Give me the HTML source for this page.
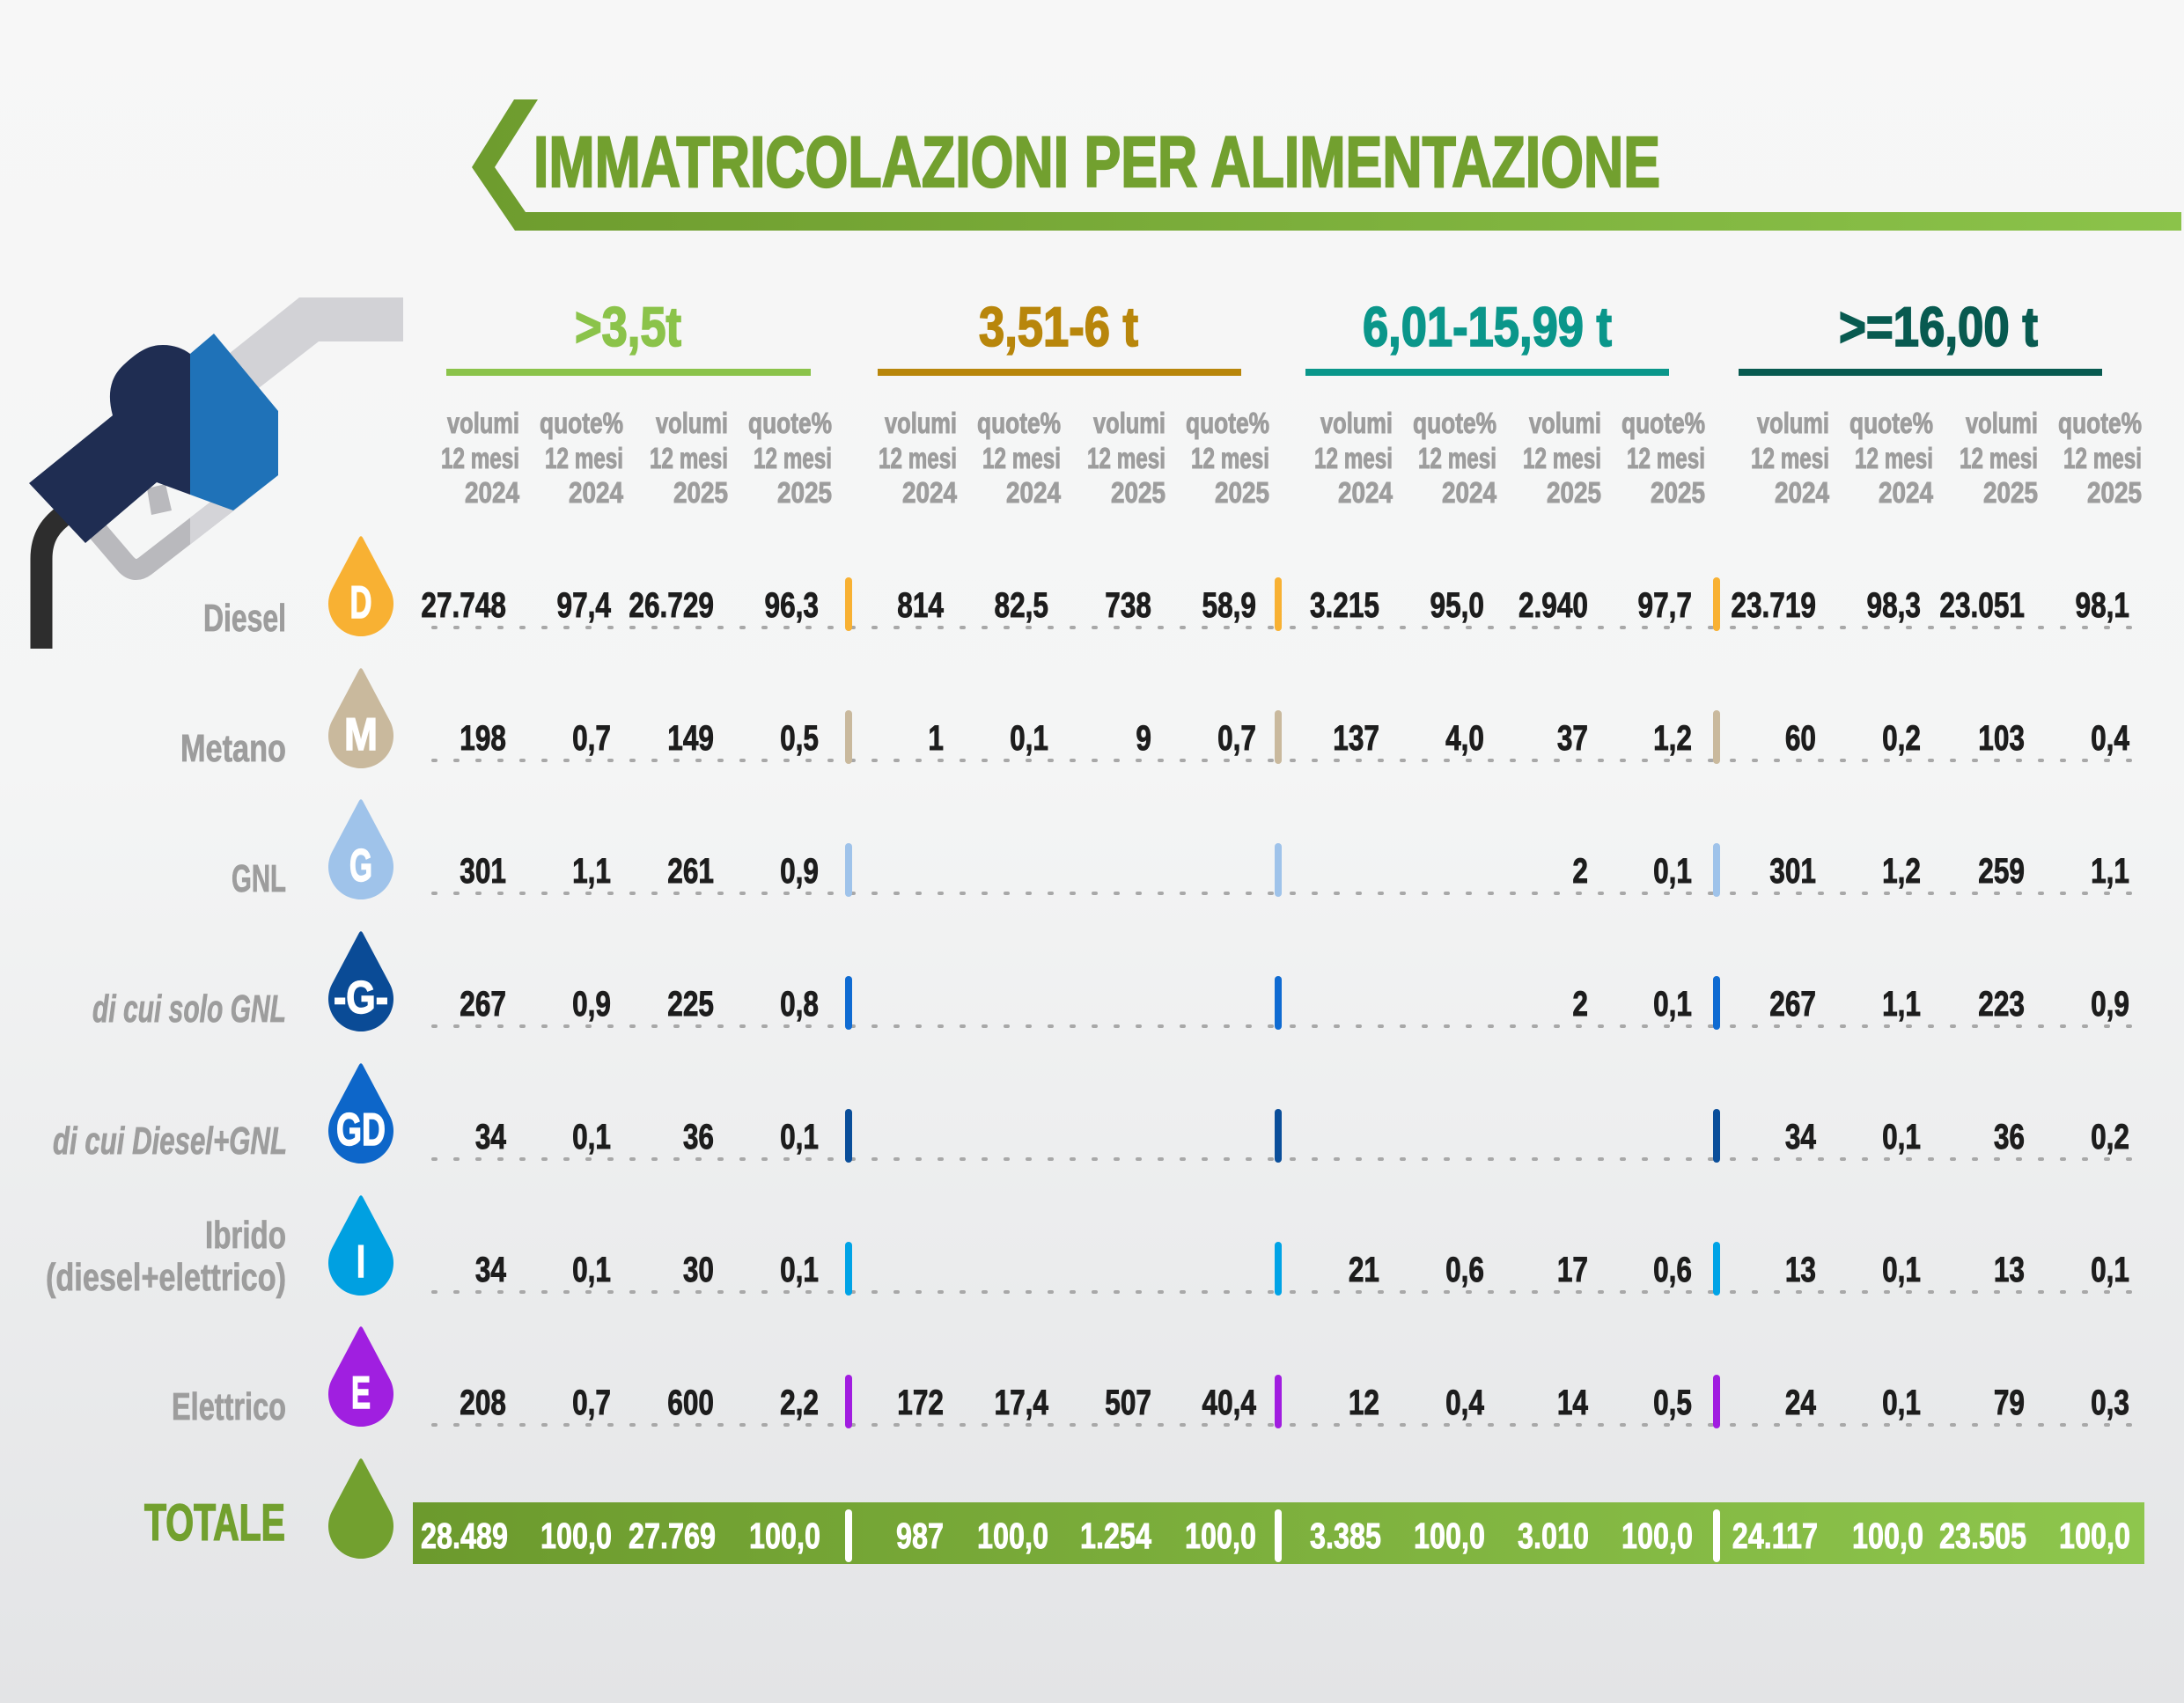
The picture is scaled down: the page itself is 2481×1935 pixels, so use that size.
<!DOCTYPE html>
<html><head><meta charset="utf-8"><style>
html,body{margin:0;padding:0;background:#f2f3f3;}
svg{display:block;}
text{font-family:"Liberation Sans",sans-serif;font-weight:bold;}
.v{fill:#1d1d1d;stroke:#1d1d1d;stroke-width:0.9px;font-size:40px;text-anchor:end;}
.t{fill:#fff;stroke:#fff;stroke-width:0.9px;font-size:41px;text-anchor:end;}
.h{fill:#9d9d9d;stroke:#9d9d9d;stroke-width:1px;font-size:33px;}
.l{fill:#9d9d9d;stroke:#9d9d9d;stroke-width:0.8px;font-size:44px;}
.d{fill:#fff;stroke:#fff;stroke-width:1.5px;font-size:52px;}
</style></head><body>
<svg width="2481" height="1935" viewBox="0 0 2481 1935" xmlns="http://www.w3.org/2000/svg">
<defs>
<linearGradient id="bg" x1="0" y1="0" x2="0" y2="1">
<stop offset="0" stop-color="#f7f7f7"/><stop offset="0.45" stop-color="#f4f5f5"/><stop offset="1" stop-color="#e3e4e6"/>
</linearGradient>
<linearGradient id="gc" gradientUnits="userSpaceOnUse" x1="536" y1="0" x2="2478" y2="0">
<stop offset="0" stop-color="#6e9c2e"/><stop offset="1" stop-color="#8bc34a"/>
</linearGradient>
<linearGradient id="gt" gradientUnits="userSpaceOnUse" x1="469" y1="0" x2="2436" y2="0">
<stop offset="0" stop-color="#6c9a2d"/><stop offset="1" stop-color="#8ec64d"/>
</linearGradient>
<clipPath id="cr"><rect x="216" y="300" width="300" height="400"/></clipPath>
<path id="drop" d="M407.7 4.4 Q410 0 412.3 4.4 L442.7 61.7 A37 37 0 1 1 377.3 61.7 Z"/>
</defs>
<rect width="2481" height="1935" fill="url(#bg)"/>

<!-- title chevron -->
<polygon fill="url(#gc)" points="584,113 611,113 562,190 597,241 2478,241 2478,262 585,262 536,190"/>
<text x="606" y="212" font-size="82" fill="#72a02f" stroke="#72a02f" stroke-width="2.2" textLength="1280" lengthAdjust="spacingAndGlyphs">IMMATRICOLAZIONI PER ALIMENTAZIONE</text>

<!-- pump icon -->
<path d="M76 583 C58 595 47 610 47 635 L47 737" fill="none" stroke="#2d2d2d" stroke-width="25"/>
<polygon fill="#d2d2d6" points="340,338 458,338 458,388 362,388 272,458 240,418"/>
<g fill="none" stroke-width="24" stroke-linejoin="round">
<path stroke="#b9b9bd" d="M272 560 L165 643 Q153 652 143 641 L95 585"/>
<path stroke="#d4d4d8" clip-path="url(#cr)" d="M272 560 L165 643 Q153 652 143 641 L95 585"/>
</g>
<polygon fill="#b9b9bd" points="167,555 188,550 195,580 172,585"/>
<path fill="#1f2d52" d="M33 549 L128 472 C122 450 124 430 140 415 C158 398 170 392 185 392 C198 392 208 396 216 402 L216 562 L178 548 L97 617 Z"/>
<polygon fill="#1f72b8" points="216,402 243,379 316,467 316,540 265,580 216,562"/>

<!-- group headers -->
<text x="653" y="393" font-size="63" fill="#8bc34a" stroke="#8bc34a" stroke-width="1.8" textLength="121" lengthAdjust="spacingAndGlyphs">&gt;3,5t</text>
<text x="1112" y="393" font-size="63" fill="#b8860b" stroke="#b8860b" stroke-width="1.8" textLength="181" lengthAdjust="spacingAndGlyphs">3,51-6 t</text>
<text x="1548" y="393" font-size="63" fill="#0a968a" stroke="#0a968a" stroke-width="1.8" textLength="283" lengthAdjust="spacingAndGlyphs">6,01-15,99 t</text>
<text x="2089" y="393" font-size="63" fill="#085a50" stroke="#085a50" stroke-width="1.8" textLength="226" lengthAdjust="spacingAndGlyphs">&gt;=16,00 t</text>
<rect x="507" y="419" width="414" height="8" fill="#8bc34a"/>
<rect x="997" y="419" width="413" height="8" fill="#b8860b"/>
<rect x="1483" y="419" width="413" height="8" fill="#0a968a"/>
<rect x="1975" y="419" width="413" height="8" fill="#085a50"/>

<!-- sub headers -->
<g class="h">
<text class="h" x="508" y="492" textLength="82" lengthAdjust="spacingAndGlyphs">volumi</text><text class="h" x="501" y="532" textLength="89" lengthAdjust="spacingAndGlyphs">12 mesi</text><text class="h" x="528" y="571" textLength="62" lengthAdjust="spacingAndGlyphs">2024</text>
<text class="h" x="613" y="492" textLength="95" lengthAdjust="spacingAndGlyphs">quote%</text><text class="h" x="619" y="532" textLength="89" lengthAdjust="spacingAndGlyphs">12 mesi</text><text class="h" x="646" y="571" textLength="62" lengthAdjust="spacingAndGlyphs">2024</text>
<text class="h" x="745" y="492" textLength="82" lengthAdjust="spacingAndGlyphs">volumi</text><text class="h" x="738" y="532" textLength="89" lengthAdjust="spacingAndGlyphs">12 mesi</text><text class="h" x="765" y="571" textLength="62" lengthAdjust="spacingAndGlyphs">2025</text>
<text class="h" x="850" y="492" textLength="95" lengthAdjust="spacingAndGlyphs">quote%</text><text class="h" x="856" y="532" textLength="89" lengthAdjust="spacingAndGlyphs">12 mesi</text><text class="h" x="883" y="571" textLength="62" lengthAdjust="spacingAndGlyphs">2025</text>

<text class="h" x="1005" y="492" textLength="82" lengthAdjust="spacingAndGlyphs">volumi</text><text class="h" x="998" y="532" textLength="89" lengthAdjust="spacingAndGlyphs">12 mesi</text><text class="h" x="1025" y="571" textLength="62" lengthAdjust="spacingAndGlyphs">2024</text>
<text class="h" x="1110" y="492" textLength="95" lengthAdjust="spacingAndGlyphs">quote%</text><text class="h" x="1116" y="532" textLength="89" lengthAdjust="spacingAndGlyphs">12 mesi</text><text class="h" x="1143" y="571" textLength="62" lengthAdjust="spacingAndGlyphs">2024</text>
<text class="h" x="1242" y="492" textLength="82" lengthAdjust="spacingAndGlyphs">volumi</text><text class="h" x="1235" y="532" textLength="89" lengthAdjust="spacingAndGlyphs">12 mesi</text><text class="h" x="1262" y="571" textLength="62" lengthAdjust="spacingAndGlyphs">2025</text>
<text class="h" x="1347" y="492" textLength="95" lengthAdjust="spacingAndGlyphs">quote%</text><text class="h" x="1353" y="532" textLength="89" lengthAdjust="spacingAndGlyphs">12 mesi</text><text class="h" x="1380" y="571" textLength="62" lengthAdjust="spacingAndGlyphs">2025</text>

<text class="h" x="1500" y="492" textLength="82" lengthAdjust="spacingAndGlyphs">volumi</text><text class="h" x="1493" y="532" textLength="89" lengthAdjust="spacingAndGlyphs">12 mesi</text><text class="h" x="1520" y="571" textLength="62" lengthAdjust="spacingAndGlyphs">2024</text>
<text class="h" x="1605" y="492" textLength="95" lengthAdjust="spacingAndGlyphs">quote%</text><text class="h" x="1611" y="532" textLength="89" lengthAdjust="spacingAndGlyphs">12 mesi</text><text class="h" x="1638" y="571" textLength="62" lengthAdjust="spacingAndGlyphs">2024</text>
<text class="h" x="1737" y="492" textLength="82" lengthAdjust="spacingAndGlyphs">volumi</text><text class="h" x="1730" y="532" textLength="89" lengthAdjust="spacingAndGlyphs">12 mesi</text><text class="h" x="1757" y="571" textLength="62" lengthAdjust="spacingAndGlyphs">2025</text>
<text class="h" x="1842" y="492" textLength="95" lengthAdjust="spacingAndGlyphs">quote%</text><text class="h" x="1848" y="532" textLength="89" lengthAdjust="spacingAndGlyphs">12 mesi</text><text class="h" x="1875" y="571" textLength="62" lengthAdjust="spacingAndGlyphs">2025</text>

<text class="h" x="1996" y="492" textLength="82" lengthAdjust="spacingAndGlyphs">volumi</text><text class="h" x="1989" y="532" textLength="89" lengthAdjust="spacingAndGlyphs">12 mesi</text><text class="h" x="2016" y="571" textLength="62" lengthAdjust="spacingAndGlyphs">2024</text>
<text class="h" x="2101" y="492" textLength="95" lengthAdjust="spacingAndGlyphs">quote%</text><text class="h" x="2107" y="532" textLength="89" lengthAdjust="spacingAndGlyphs">12 mesi</text><text class="h" x="2134" y="571" textLength="62" lengthAdjust="spacingAndGlyphs">2024</text>
<text class="h" x="2233" y="492" textLength="82" lengthAdjust="spacingAndGlyphs">volumi</text><text class="h" x="2226" y="532" textLength="89" lengthAdjust="spacingAndGlyphs">12 mesi</text><text class="h" x="2253" y="571" textLength="62" lengthAdjust="spacingAndGlyphs">2025</text>
<text class="h" x="2338" y="492" textLength="95" lengthAdjust="spacingAndGlyphs">quote%</text><text class="h" x="2344" y="532" textLength="89" lengthAdjust="spacingAndGlyphs">12 mesi</text><text class="h" x="2371" y="571" textLength="62" lengthAdjust="spacingAndGlyphs">2025</text>
</g>

<!-- dotted lines -->
<g stroke="#a8a8a8" stroke-width="4" stroke-dasharray="3 22" stroke-linecap="round" fill="none">
<line x1="492" y1="713" x2="2420" y2="713"/>
<line x1="492" y1="864" x2="2420" y2="864"/>
<line x1="492" y1="1015" x2="2420" y2="1015"/>
<line x1="492" y1="1166" x2="2420" y2="1166"/>
<line x1="492" y1="1317" x2="2420" y2="1317"/>
<line x1="492" y1="1468" x2="2420" y2="1468"/>
<line x1="492" y1="1619" x2="2420" y2="1619"/>
</g>

<!-- separators -->
<g fill="#f8b133"><rect x="960" y="656" width="8" height="61" rx="4"/><rect x="1448" y="656" width="8" height="61" rx="4"/><rect x="1946" y="656" width="8" height="61" rx="4"/></g>
<g fill="#c9b99d"><rect x="960" y="807" width="8" height="61" rx="4"/><rect x="1448" y="807" width="8" height="61" rx="4"/><rect x="1946" y="807" width="8" height="61" rx="4"/></g>
<g fill="#9fc3ea"><rect x="960" y="958" width="8" height="61" rx="4"/><rect x="1448" y="958" width="8" height="61" rx="4"/><rect x="1946" y="958" width="8" height="61" rx="4"/></g>
<g fill="#0f6bd2"><rect x="960" y="1109" width="8" height="61" rx="4"/><rect x="1448" y="1109" width="8" height="61" rx="4"/><rect x="1946" y="1109" width="8" height="61" rx="4"/></g>
<g fill="#0a4e9a"><rect x="960" y="1260" width="8" height="61" rx="4"/><rect x="1448" y="1260" width="8" height="61" rx="4"/><rect x="1946" y="1260" width="8" height="61" rx="4"/></g>
<g fill="#00a3e6"><rect x="960" y="1411" width="8" height="61" rx="4"/><rect x="1448" y="1411" width="8" height="61" rx="4"/><rect x="1946" y="1411" width="8" height="61" rx="4"/></g>
<g fill="#a11de0"><rect x="960" y="1562" width="8" height="61" rx="4"/><rect x="1448" y="1562" width="8" height="61" rx="4"/><rect x="1946" y="1562" width="8" height="61" rx="4"/></g>

<!-- drops -->
<use href="#drop" y="607" fill="#f8b133"/>
<use href="#drop" y="757" fill="#c9b99d"/>
<use href="#drop" y="906" fill="#9fc3ea"/>
<use href="#drop" y="1056" fill="#0a4b96"/>
<use href="#drop" y="1206" fill="#0d66c9"/>
<use href="#drop" y="1356" fill="#00a0e1"/>
<use href="#drop" y="1505" fill="#a01fe0"/>
<use href="#drop" y="1655" fill="#72a02f"/>
<text class="d" x="397.5" y="702" textLength="25" lengthAdjust="spacingAndGlyphs">D</text>
<text class="d" x="391" y="852" textLength="38" lengthAdjust="spacingAndGlyphs">M</text>
<text class="d" x="397" y="1001" textLength="26" lengthAdjust="spacingAndGlyphs">G</text>
<text class="d" x="379" y="1151" textLength="62" lengthAdjust="spacingAndGlyphs">-G-</text>
<text class="d" x="382" y="1301" textLength="56" lengthAdjust="spacingAndGlyphs">GD</text>
<text class="d" x="405" y="1451" textLength="10" lengthAdjust="spacingAndGlyphs">I</text>
<text class="d" x="399" y="1600" textLength="22" lengthAdjust="spacingAndGlyphs">E</text>

<!-- row labels -->
<text class="l" x="231" y="717" textLength="94" lengthAdjust="spacingAndGlyphs">Diesel</text>
<text class="l" x="205" y="865" textLength="120" lengthAdjust="spacingAndGlyphs">Metano</text>
<text class="l" x="263" y="1013" textLength="62" lengthAdjust="spacingAndGlyphs">GNL</text>
<text class="l" x="105" y="1161" font-style="italic" textLength="220" lengthAdjust="spacingAndGlyphs">di cui solo GNL</text>
<text class="l" x="60" y="1311" font-style="italic" textLength="266" lengthAdjust="spacingAndGlyphs">di cui Diesel+GNL</text>
<text class="l" x="233" y="1418" textLength="92" lengthAdjust="spacingAndGlyphs">Ibrido</text>
<text class="l" x="52" y="1466" textLength="273" lengthAdjust="spacingAndGlyphs">(diesel+elettrico)</text>
<text class="l" x="195" y="1613" textLength="130" lengthAdjust="spacingAndGlyphs">Elettrico</text>
<text x="164" y="1750" font-size="58" fill="#72a02f" stroke="#72a02f" stroke-width="1.6" textLength="160" lengthAdjust="spacingAndGlyphs">TOTALE</text>

<!-- data values -->
<g class="v">
<text class="v" transform="translate(575,701) scale(.79,1)">27.748</text>
<text class="v" transform="translate(694,701) scale(.79,1)">97,4</text>
<text class="v" transform="translate(811,701) scale(.79,1)">26.729</text>
<text class="v" transform="translate(930,701) scale(.79,1)">96,3</text>
<text class="v" transform="translate(1072,701) scale(.79,1)">814</text>
<text class="v" transform="translate(1191,701) scale(.79,1)">82,5</text>
<text class="v" transform="translate(1308,701) scale(.79,1)">738</text>
<text class="v" transform="translate(1427,701) scale(.79,1)">58,9</text>
<text class="v" transform="translate(1567,701) scale(.79,1)">3.215</text>
<text class="v" transform="translate(1686,701) scale(.79,1)">95,0</text>
<text class="v" transform="translate(1804,701) scale(.79,1)">2.940</text>
<text class="v" transform="translate(1922,701) scale(.79,1)">97,7</text>
<text class="v" transform="translate(2063,701) scale(.79,1)">23.719</text>
<text class="v" transform="translate(2182,701) scale(.79,1)">98,3</text>
<text class="v" transform="translate(2300,701) scale(.79,1)">23.051</text>
<text class="v" transform="translate(2419,701) scale(.79,1)">98,1</text>

<text class="v" transform="translate(575,852) scale(.79,1)">198</text>
<text class="v" transform="translate(694,852) scale(.79,1)">0,7</text>
<text class="v" transform="translate(811,852) scale(.79,1)">149</text>
<text class="v" transform="translate(930,852) scale(.79,1)">0,5</text>
<text class="v" transform="translate(1072,852) scale(.79,1)">1</text>
<text class="v" transform="translate(1191,852) scale(.79,1)">0,1</text>
<text class="v" transform="translate(1308,852) scale(.79,1)">9</text>
<text class="v" transform="translate(1427,852) scale(.79,1)">0,7</text>
<text class="v" transform="translate(1567,852) scale(.79,1)">137</text>
<text class="v" transform="translate(1686,852) scale(.79,1)">4,0</text>
<text class="v" transform="translate(1804,852) scale(.79,1)">37</text>
<text class="v" transform="translate(1922,852) scale(.79,1)">1,2</text>
<text class="v" transform="translate(2063,852) scale(.79,1)">60</text>
<text class="v" transform="translate(2182,852) scale(.79,1)">0,2</text>
<text class="v" transform="translate(2300,852) scale(.79,1)">103</text>
<text class="v" transform="translate(2419,852) scale(.79,1)">0,4</text>

<text class="v" transform="translate(575,1003) scale(.79,1)">301</text>
<text class="v" transform="translate(694,1003) scale(.79,1)">1,1</text>
<text class="v" transform="translate(811,1003) scale(.79,1)">261</text>
<text class="v" transform="translate(930,1003) scale(.79,1)">0,9</text>
<text class="v" transform="translate(1804,1003) scale(.79,1)">2</text>
<text class="v" transform="translate(1922,1003) scale(.79,1)">0,1</text>
<text class="v" transform="translate(2063,1003) scale(.79,1)">301</text>
<text class="v" transform="translate(2182,1003) scale(.79,1)">1,2</text>
<text class="v" transform="translate(2300,1003) scale(.79,1)">259</text>
<text class="v" transform="translate(2419,1003) scale(.79,1)">1,1</text>

<text class="v" transform="translate(575,1154) scale(.79,1)">267</text>
<text class="v" transform="translate(694,1154) scale(.79,1)">0,9</text>
<text class="v" transform="translate(811,1154) scale(.79,1)">225</text>
<text class="v" transform="translate(930,1154) scale(.79,1)">0,8</text>
<text class="v" transform="translate(1804,1154) scale(.79,1)">2</text>
<text class="v" transform="translate(1922,1154) scale(.79,1)">0,1</text>
<text class="v" transform="translate(2063,1154) scale(.79,1)">267</text>
<text class="v" transform="translate(2182,1154) scale(.79,1)">1,1</text>
<text class="v" transform="translate(2300,1154) scale(.79,1)">223</text>
<text class="v" transform="translate(2419,1154) scale(.79,1)">0,9</text>

<text class="v" transform="translate(575,1305) scale(.79,1)">34</text>
<text class="v" transform="translate(694,1305) scale(.79,1)">0,1</text>
<text class="v" transform="translate(811,1305) scale(.79,1)">36</text>
<text class="v" transform="translate(930,1305) scale(.79,1)">0,1</text>
<text class="v" transform="translate(2063,1305) scale(.79,1)">34</text>
<text class="v" transform="translate(2182,1305) scale(.79,1)">0,1</text>
<text class="v" transform="translate(2300,1305) scale(.79,1)">36</text>
<text class="v" transform="translate(2419,1305) scale(.79,1)">0,2</text>

<text class="v" transform="translate(575,1456) scale(.79,1)">34</text>
<text class="v" transform="translate(694,1456) scale(.79,1)">0,1</text>
<text class="v" transform="translate(811,1456) scale(.79,1)">30</text>
<text class="v" transform="translate(930,1456) scale(.79,1)">0,1</text>
<text class="v" transform="translate(1567,1456) scale(.79,1)">21</text>
<text class="v" transform="translate(1686,1456) scale(.79,1)">0,6</text>
<text class="v" transform="translate(1804,1456) scale(.79,1)">17</text>
<text class="v" transform="translate(1922,1456) scale(.79,1)">0,6</text>
<text class="v" transform="translate(2063,1456) scale(.79,1)">13</text>
<text class="v" transform="translate(2182,1456) scale(.79,1)">0,1</text>
<text class="v" transform="translate(2300,1456) scale(.79,1)">13</text>
<text class="v" transform="translate(2419,1456) scale(.79,1)">0,1</text>

<text class="v" transform="translate(575,1607) scale(.79,1)">208</text>
<text class="v" transform="translate(694,1607) scale(.79,1)">0,7</text>
<text class="v" transform="translate(811,1607) scale(.79,1)">600</text>
<text class="v" transform="translate(930,1607) scale(.79,1)">2,2</text>
<text class="v" transform="translate(1072,1607) scale(.79,1)">172</text>
<text class="v" transform="translate(1191,1607) scale(.79,1)">17,4</text>
<text class="v" transform="translate(1308,1607) scale(.79,1)">507</text>
<text class="v" transform="translate(1427,1607) scale(.79,1)">40,4</text>
<text class="v" transform="translate(1567,1607) scale(.79,1)">12</text>
<text class="v" transform="translate(1686,1607) scale(.79,1)">0,4</text>
<text class="v" transform="translate(1804,1607) scale(.79,1)">14</text>
<text class="v" transform="translate(1922,1607) scale(.79,1)">0,5</text>
<text class="v" transform="translate(2063,1607) scale(.79,1)">24</text>
<text class="v" transform="translate(2182,1607) scale(.79,1)">0,1</text>
<text class="v" transform="translate(2300,1607) scale(.79,1)">79</text>
<text class="v" transform="translate(2419,1607) scale(.79,1)">0,3</text>
</g>

<!-- total bar -->
<rect x="469" y="1707" width="1967" height="70" fill="url(#gt)"/>
<g fill="#ffffff"><rect x="960" y="1715" width="8" height="60" rx="4"/><rect x="1448" y="1715" width="8" height="60" rx="4"/><rect x="1946" y="1715" width="8" height="60" rx="4"/></g>
<g class="t">
<text class="t" transform="translate(577,1759) scale(.79,1)">28.489</text>
<text class="t" transform="translate(695,1759) scale(.79,1)">100,0</text>
<text class="t" transform="translate(813,1759) scale(.79,1)">27.769</text>
<text class="t" transform="translate(932,1759) scale(.79,1)">100,0</text>
<text class="t" transform="translate(1072,1759) scale(.79,1)">987</text>
<text class="t" transform="translate(1191,1759) scale(.79,1)">100,0</text>
<text class="t" transform="translate(1308,1759) scale(.79,1)">1.254</text>
<text class="t" transform="translate(1427,1759) scale(.79,1)">100,0</text>
<text class="t" transform="translate(1569,1759) scale(.79,1)">3.385</text>
<text class="t" transform="translate(1687,1759) scale(.79,1)">100,0</text>
<text class="t" transform="translate(1805,1759) scale(.79,1)">3.010</text>
<text class="t" transform="translate(1923,1759) scale(.79,1)">100,0</text>
<text class="t" transform="translate(2065,1759) scale(.79,1)">24.117</text>
<text class="t" transform="translate(2185,1759) scale(.79,1)">100,0</text>
<text class="t" transform="translate(2302,1759) scale(.79,1)">23.505</text>
<text class="t" transform="translate(2420,1759) scale(.79,1)">100,0</text>
</g>
</svg>
</body></html>
